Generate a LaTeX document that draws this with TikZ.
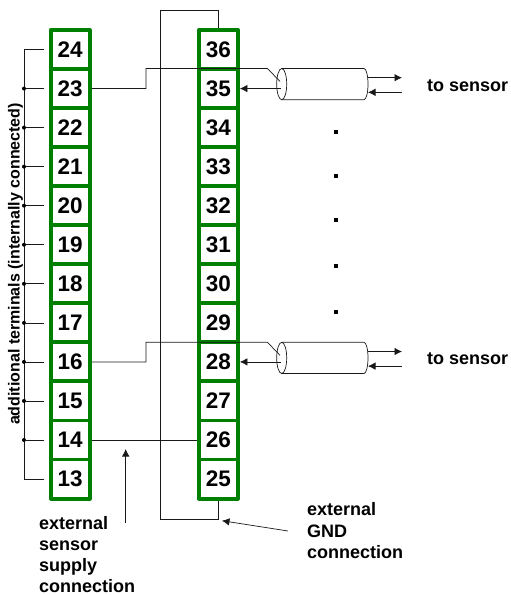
\documentclass[tikz,border=0pt]{standalone}
\usepackage{fontspec}
\setmainfont{Liberation Sans}
\usetikzlibrary{arrows.meta,shapes.geometric}
\definecolor{termgreen}{RGB}{0,128,0}
\tikzset{
  x=1pt,y=-1pt,
  term/.style={draw=termgreen,line width=3.9pt,line join=round,fill=white,minimum width=39pt,minimum height=39.05pt,inner sep=0pt,font=\bfseries\fontsize{22.5}{22.5}\selectfont,text=black,anchor=center},
  wire/.style={draw=black!90,line width=.7pt},
  arr/.style={wire,-{Latex[length=7.5pt,width=7.5pt]}},
  lab/.style={font=\bfseries\fontsize{18}{21.2}\selectfont,align=left,anchor=north west,inner sep=0pt},
  junction/.style={circle,fill=black,inner sep=0pt,minimum size=4pt},
  dotmark/.style={fill=black,inner sep=0pt,minimum size=4pt}
}
\begin{document}
\begin{tikzpicture}
\useasboundingbox (0,0) rectangle (511,595);
\coordinate (gt) at (160.5,10.5);
\coordinate (gb) at (160.5,519);
\foreach \n [count=\i from 0] in {24,23,22,21,20,19,18,17,16,15,14,13}{
  \node[term] (t\n) at (70.2,{49.5+\i*39.05}) {\n};
}
\foreach \n [count=\i from 0] in {36,35,34,33,32,31,30,29,28,27,26,25}{
  \node[term] (t\n) at (218.4,{49.5+\i*39.05}) {\n};
}
\draw[wire] (t36.north) |- (gt) -- (gb) -| (t25.south);
\coordinate (bx) at (24,0);
\coordinate (sx) at (44,0);
\draw[wire] (sx|-t24) -- (bx|-t24) -- (bx|-t13) -- (sx|-t13);
\foreach \n in {23,22,21,20,19,18,17,16,15,14}{
  \node[junction] (j\n) at (bx|-t\n) {};
  \draw[wire] (j\n) -- (sx|-t\n);
}
\node[font=\bfseries\fontsize{16}{16}\selectfont,rotate=90,inner sep=0pt] (addl) at (15.5,264) {additional terminals (internally connected)};
\foreach \a/\yy/\b in {23/68.5/35,16/342.3/28}{
  \coordinate (k\a) at (146,\yy);
  \coordinate (s\a) at (267.5,\yy);
  \coordinate (e\a) at (280,{\yy+13});
  \draw[wire,fill=white] (281.7,\yy) -- (364,\yy) arc[start angle=-90,end angle=90,x radius=4,y radius=15.6] -- (281.7,{\yy+31.2});
  \draw[wire] (281.7,\yy) arc[start angle=-90,end angle=270,x radius=5,y radius=15.6];
  \draw[wire] (t\a.east) -| (k\a) -- (s\a) -- (e\a);
  \coordinate (c\b) at (281,0);
  \draw[arr] (c\b|-t\b) -- (t\b.east);
  \coordinate (o\b) at (368,{\yy+9.2});
  \coordinate (ot\b) at (402,{\yy+9.2});
  \draw[arr] (o\b) -- (ot\b);
  \coordinate (p\b) at (402,{\yy+23.8});
  \coordinate (q\b) at (368,{\yy+23.8});
  \draw[arr] (p\b) -- (q\b);
}
\node[lab,anchor=base west] (s1) at (427,91) {to sensor};
\node[lab,anchor=base west] (s2) at (427,364.5) {to sensor};
\foreach \y [count=\k] in {132,176,220,266,312}{\node[dotmark] (d\k) at (336,\y) {};}
\draw[wire] (t14.east) -- (t26.west);
\coordinate (sa) at (125.7,523);
\coordinate (sb) at (125.7,449);
\draw[arr] (sa) -- (sb);
\node[lab] (supply) at (39,516) {external\\sensor\\supply\\connection};
\coordinate (ga) at (288,531);
\coordinate (gc) at (222,520.7);
\draw[arr] (ga) -- (gc);
\node[lab] (gnd) at (307,502.7) {external\\GND\\connection};
\end{tikzpicture}
\end{document}
